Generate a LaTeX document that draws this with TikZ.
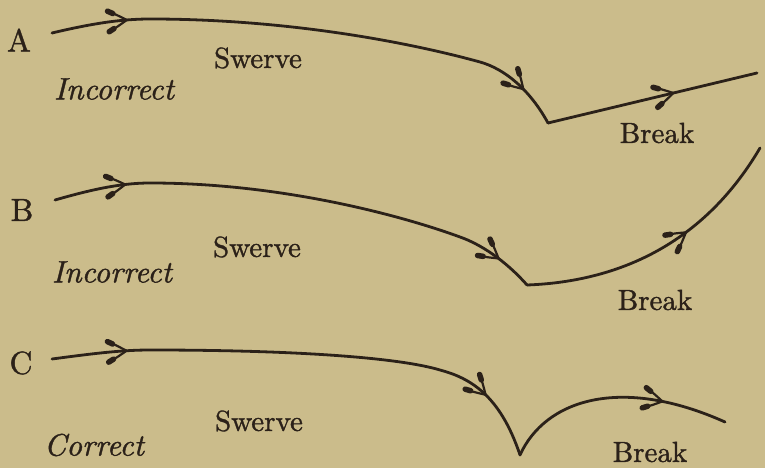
\documentclass[tikz,border=0pt]{standalone}
\usepackage{fontspec}
\usetikzlibrary{decorations.markings}
\newfontfamily\inkfont{lmroman10}[Extension=.otf, UprightFont=*-regular, ItalicFont=*-italic, FakeBold=1.2]
\definecolor{paperC}{HTML}{CBBC8B}
\definecolor{inkC}{HTML}{2B2119}
% feathered arrow head, drawn in the frame of the mark
\newcommand{\quillhead}{%
  \draw[inkC, line width=2.2pt, line cap=round] (-19,10.5) .. controls (-12,7.5) and (-5,3) .. (0,0)
    .. controls (-5,-3) and (-12,-7.5) .. (-19,-10.5);
  \draw[inkC, line width=5.5pt, line cap=round] (-18.5,10.3) -- (-13.5,7.6) (-18.5,-10.3) -- (-13.5,-7.6);}
\tikzset{
  stroke/.style={draw, color=inkC, line width=2.8pt, line cap=round, line join=round},
  barbed/.style={postaction={decorate, decoration={markings, mark=at position #1 with {\quillhead}}}},
  lbl/.style={text=inkC, font=\inkfont\fontsize{29}{35}\selectfont, inner sep=0pt},
  verdict/.style={lbl, font=\inkfont\fontsize{31}{37}\selectfont\itshape},
  tag/.style={lbl, font=\inkfont\fontsize{32}{38}\selectfont},
}

\begin{document}
\begin{tikzpicture}[x=1pt,y=1pt]
\fill[paperC] (0,0) rectangle (765,468);
\useasboundingbox (0,0) rectangle (765,468);

% A: incorrect
\coordinate (aStart) at (52,435);
\coordinate (aTop) at (150,449);
\coordinate (aBend) at (480,406);
\coordinate (aTurn) at (548,345);
\coordinate (aEnd) at (757,395);
\draw[stroke, barbed=76pt, barbed=-42pt] (aStart) .. controls +(38,9) and +(-30,0) .. (aTop)
  .. controls +(130,0) and +(-80,22) .. (aBend) .. controls +(25,-7) and +(-18,33) .. (aTurn);
\draw[stroke, barbed=-86pt] (aTurn) -- (aEnd);
\node[tag] (tagA) at (19,428) {A};
\node[lbl] (swerveA) at (258,410) {Swerve};
\node[verdict] (verdictA) at (114,379) {Incorrect};
\node[lbl] (breakA) at (657,335) {Break};

% B: incorrect
\coordinate (bStart) at (55,268);
\coordinate (bTop) at (150,285);
\coordinate (bBend) at (460,231);
\coordinate (bTurn) at (527,183);
\coordinate (bEnd) at (760,320);
\draw[stroke, barbed=72pt, barbed=-39pt] (bStart) .. controls +(35,10) and +(-30,0) .. (bTop)
  .. controls +(130,0) and +(-60,22) .. (bBend) .. controls +(20,-7) and +(-22,25) .. (bTurn);
\draw[stroke, barbed=-113pt] (bTurn) .. controls +(83,3) and +(-60,-102) .. (bEnd);
\node[tag] (tagB) at (22,258) {B};
\node[lbl] (swerveB) at (257,221) {Swerve};
\node[verdict] (verdictB) at (112,196) {Incorrect};
\node[lbl] (breakB) at (655,168) {Break};

% C: correct
\coordinate (cStart) at (52,109);
\coordinate (cTop) at (150,118);
\coordinate (cBend) at (440,98);
\coordinate (cTurn) at (520,13);
\coordinate (cEnd) at (725,46);
\draw[stroke, barbed=75pt, barbed=-70pt] (cStart) .. controls +(38,5) and +(-30,0) .. (cTop)
  .. controls +(150,0) and +(-40,12) .. (cBend) .. controls +(30,-8) and +(-20,60) .. (cTurn);
\draw[stroke, barbed=-66pt] (cTurn) .. controls +(25,55) and +(-105,47) .. (cEnd);
\node[tag] (tagC) at (21,105) {C};
\node[lbl] (swerveC) at (259,47) {Swerve};
\node[verdict] (verdictC) at (94,23) {Correct};
\node[lbl] (breakC) at (650,16) {Break};
\end{tikzpicture}
\end{document}
